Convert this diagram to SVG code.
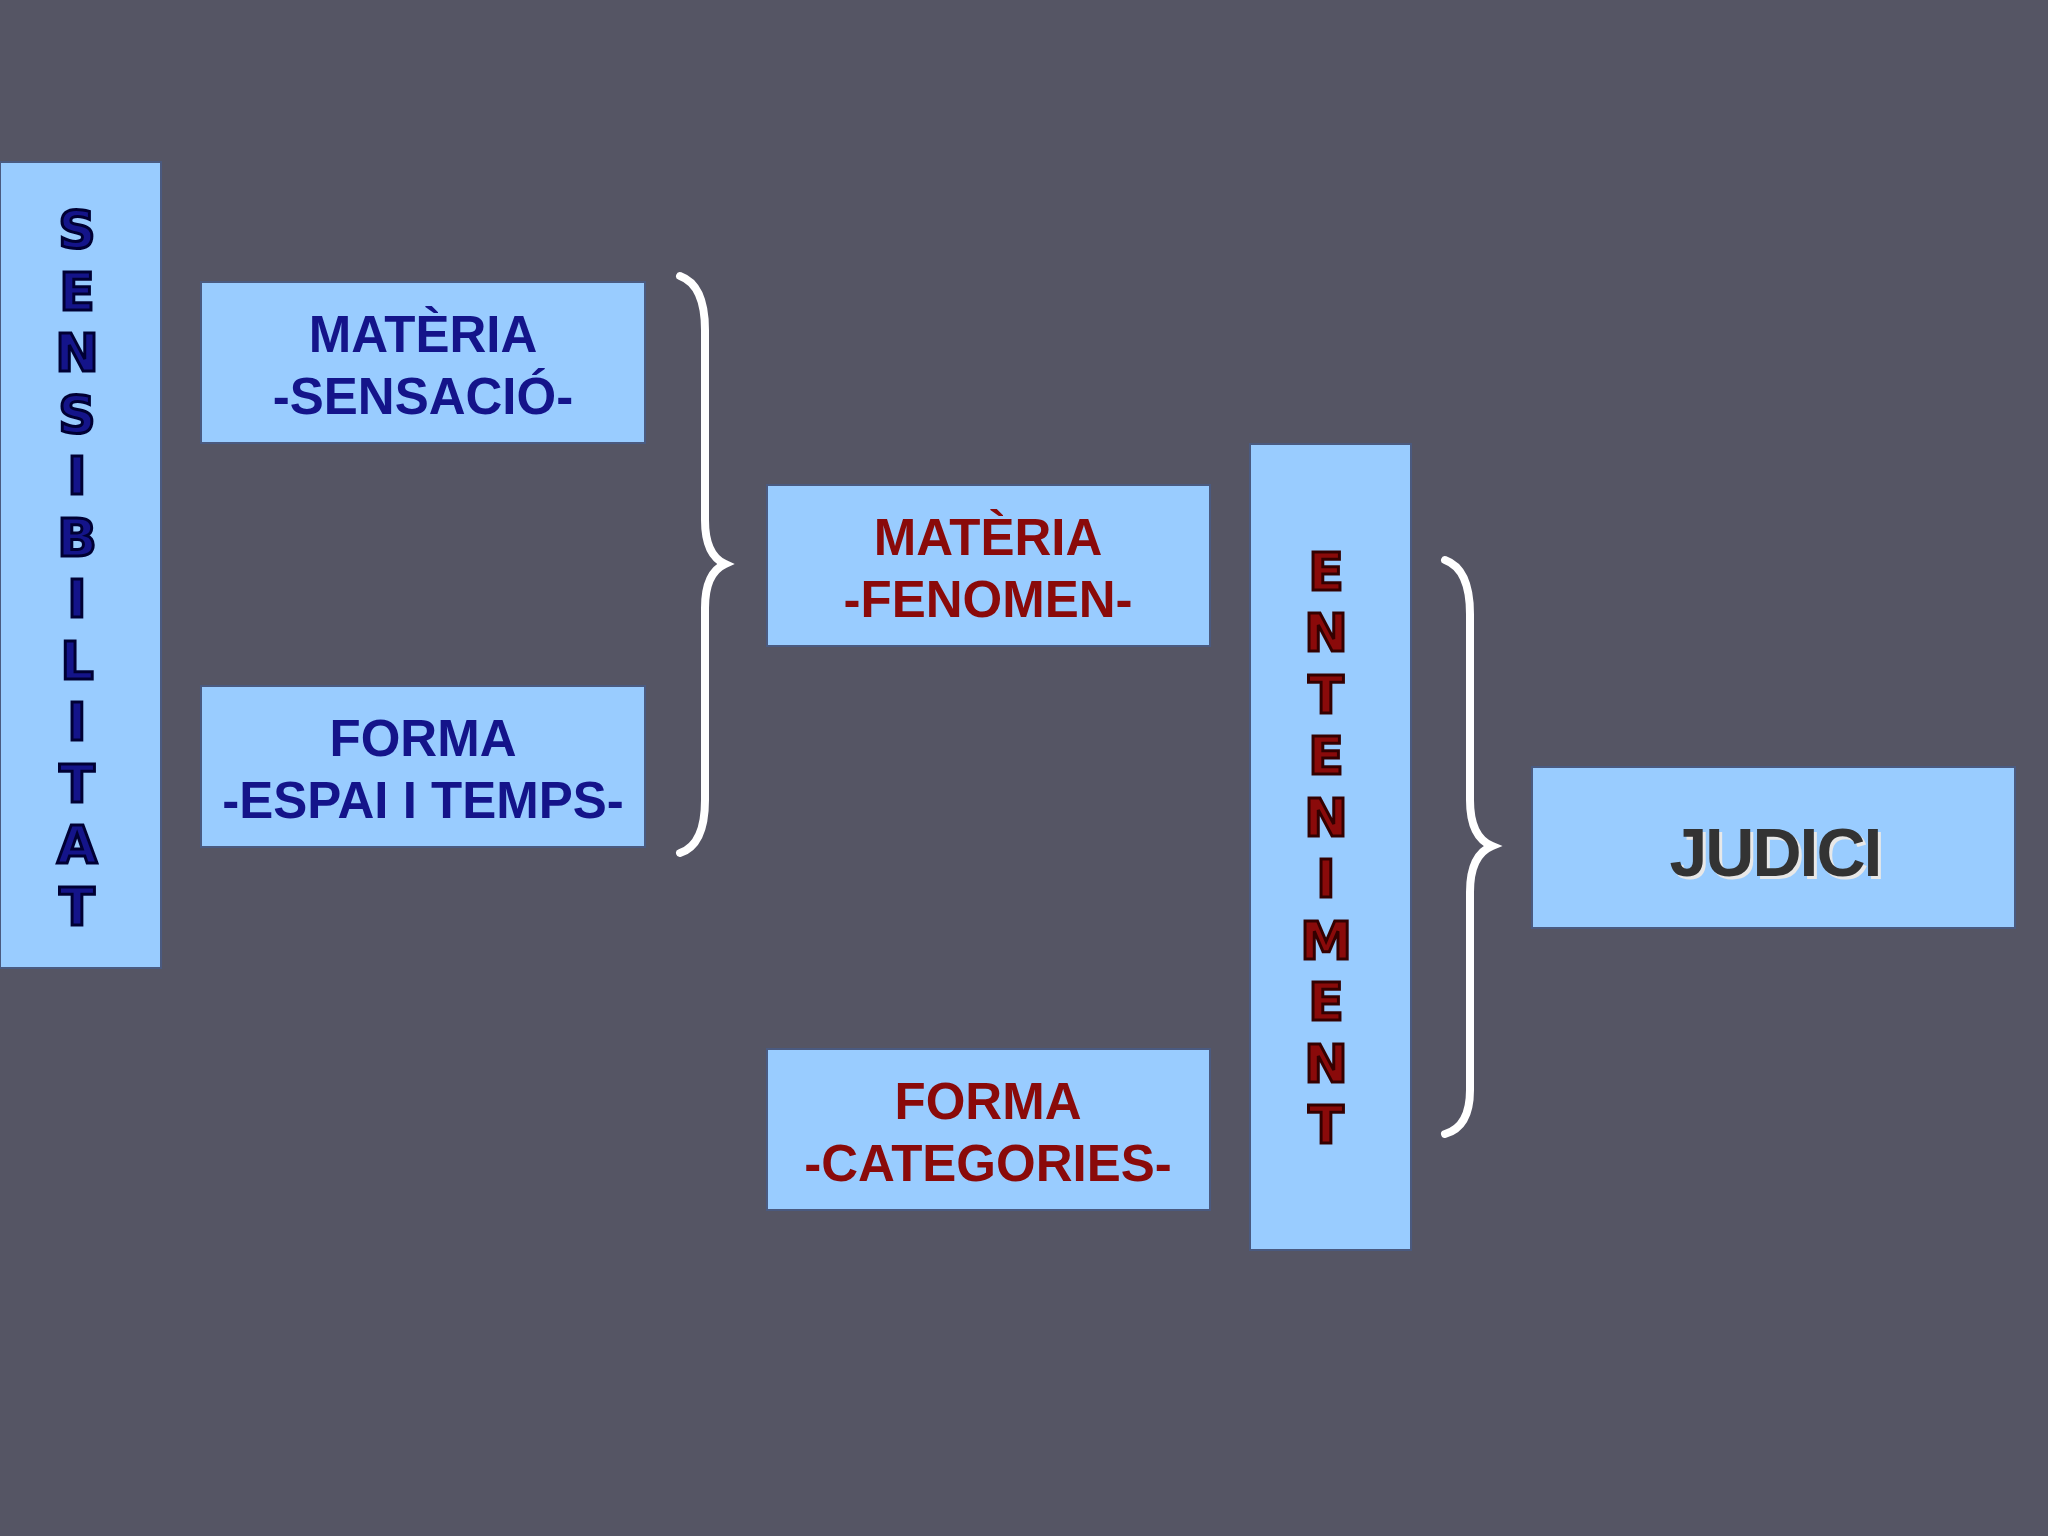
<svg xmlns="http://www.w3.org/2000/svg" width="2048" height="1536" viewBox="0 0 2048 1536">
<style>
.box{fill:#99ccff;stroke:#4a5a80;stroke-width:2}
.t{font-family:"Liberation Sans",Arial,sans-serif;font-weight:bold;font-size:51px;text-anchor:middle}
.j{font-family:"Liberation Sans",Arial,sans-serif;font-weight:bold;font-size:68px;text-anchor:middle;letter-spacing:-2px}
.blue{fill:#14148a}
.red{fill:#8a0a0a}
.v{font-family:"DejaVu Sans",sans-serif;font-weight:900;font-size:52px;text-anchor:middle;stroke-width:3}
.brace{fill:none;stroke:#ffffff;stroke-width:8;stroke-linecap:round}
</style>
<rect width="2048" height="1536" fill="#555564"/>
<g id="sensibilitat">
<rect class="box" x="0" y="162" width="161" height="806"/>
<g class="v" fill="#14148a" stroke="#000033">
<text x="77" y="248">S</text><text x="77" y="310">E</text><text x="77" y="371">N</text><text x="77" y="433">S</text><text x="77" y="494">I</text><text x="77" y="556">B</text><text x="77" y="617">I</text><text x="77" y="679">L</text><text x="77" y="740">I</text><text x="77" y="802">T</text><text x="77" y="863">A</text><text x="77" y="925">T</text>
</g>
</g>
<g id="materia-sensacio">
<rect class="box" x="201" y="282" width="444" height="161"/>
<text class="t blue" x="423" y="352">MATÈRIA</text>
<text class="t blue" x="423" y="414">-SENSACIÓ-</text>
</g>
<g id="forma-espai">
<rect class="box" x="201" y="686" width="444" height="161"/>
<text class="t blue" x="423" y="756">FORMA</text>
<text class="t blue" x="423" y="818">-ESPAI I TEMPS-</text>
</g>
<g id="materia-fenomen">
<rect class="box" x="767" y="485" width="443" height="161"/>
<text class="t red" x="988" y="555">MATÈRIA</text>
<text class="t red" x="988" y="617">-FENOMEN-</text>
</g>
<g id="forma-categories">
<rect class="box" x="767" y="1049" width="443" height="161"/>
<text class="t red" x="988" y="1119">FORMA</text>
<text class="t red" x="988" y="1181">-CATEGORIES-</text>
</g>
<g id="enteniment">
<rect class="box" x="1250" y="444" width="161" height="806"/>
<g class="v" fill="#8a0a0a" stroke="#330000">
<text x="1326" y="590">E</text><text x="1326" y="651">N</text><text x="1326" y="713">T</text><text x="1326" y="774">E</text><text x="1326" y="836">N</text><text x="1326" y="897">I</text><text x="1326" y="959">M</text><text x="1326" y="1020">E</text><text x="1326" y="1082">N</text><text x="1326" y="1143">T</text>
</g>
</g>
<g id="judici">
<rect class="box" x="1532" y="767" width="483" height="161"/>
<text class="j" x="1778" y="879" fill="#e8e8e8">JUDICI</text>
<text class="j" x="1775" y="876" fill="#333333">JUDICI</text>
</g>
<g id="connectors">
<path class="brace" d="M680,276 Q705,285 705,330 L705,520 Q705,555 725,564 Q705,573 705,608 L705,800 Q705,845 680,853"/>
<path class="brace" d="M1445,560 Q1470,569 1470,614 L1470,800 Q1470,837 1492,846 Q1470,855 1470,892 L1470,1090 Q1470,1127 1445,1134"/>
</g>
</svg>
